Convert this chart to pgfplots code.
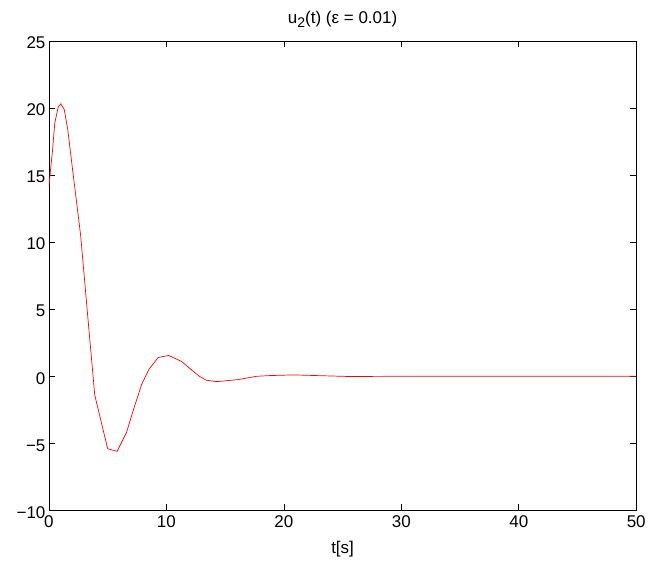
\documentclass[border=0pt]{standalone}
\usepackage{fontspec}
\setmainfont{Liberation Sans}
\usepackage{pgfplots}
\pgfplotsset{compat=1.18}
\begin{document}
\begin{tikzpicture}
\begin{axis}[
    at={(0,0)}, anchor=south west,
    scale only axis,
    width=588pt, height=470pt,
    xmin=0, xmax=50, ymin=-10, ymax=25,
    xtick={0,10,20,30,40,50},
    ytick={-10,-5,0,5,10,15,20,25},
    yticklabels={−10,−5,0,5,10,15,20,25},
    tick align=inside,
    major tick length=6pt,
    tick style={black, line width=0.6pt},
    axis line style={line width=0.8pt},
    /pgf/number format/assume math mode=true,
    tick label style={font=\fontsize{17}{19}\selectfont},
    xticklabel style={yshift=-2pt},
    yticklabel style={xshift=0pt, yshift=-2pt},
    label style={font=\fontsize{17}{19}\selectfont},
    title style={font=\fontsize{17}{19}\selectfont, yshift=4pt},
    xlabel={t[s]},
    xlabel style={yshift=-6pt},
    title={u\raisebox{-0.45ex}{\fontsize{14}{16}\selectfont 2}(t) (ε = 0.01)},
]
\addplot[red, line width=0.7pt] coordinates {
(0,14.2) (0.3,16.8) (0.5,18.9) (0.8,20.1) (1.0,20.3) (1.3,19.9) (1.6,18.4)
(2.0,15.5) (2.7,10.5) (3.3,4.5) (3.9,-1.4) (5.0,-5.4) (5.8,-5.6) (6.6,-4.2)
(7.3,-2.2) (7.9,-0.6) (8.5,0.5) (9.3,1.4) (10.2,1.55) (11.3,1.1) (12.1,0.5)
(12.8,0.0) (13.4,-0.3) (14.3,-0.4) (16.1,-0.25) (17.7,0.0) (18.8,0.05)
(20.8,0.1) (22.8,0.05) (25.6,-0.02) (30,0) (40,0) (50,0)
};
\end{axis}
\path[use as bounding box] (-49pt,-50pt) rectangle (600pt,511pt);
\end{tikzpicture}
\end{document}
